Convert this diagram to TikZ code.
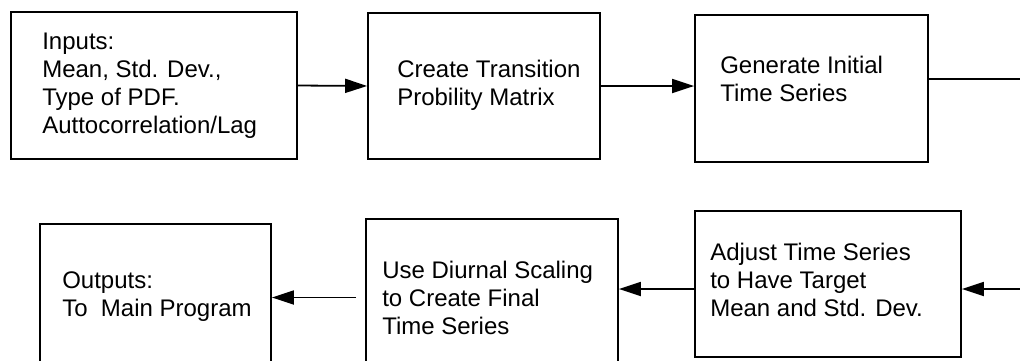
\documentclass[tikz,border=0pt]{standalone}
\usepackage{fontspec}
\setmainfont{Liberation Sans}
\usetikzlibrary{arrows.meta}

\begin{document}
\begin{tikzpicture}[x=1pt, y=-1pt,
    box/.style={draw, line width=1.8pt, rectangle, inner sep=0pt},
    txt/.style={anchor=base west, align=left, inner sep=0pt, font=\fontsize{24}{28}\selectfont},
    flow/.style={line width=1.8pt, -{Triangle[length=22pt, width=14pt]}}]
    \clip (0,0) rectangle (1020,360);

    % top row
    \node[box, minimum width=286, minimum height=147] (inputs) at (154,85.5) {};
    \node[box, minimum width=232, minimum height=146] (create) at (484,86) {};
    \node[box, minimum width=233, minimum height=147] (generate) at (811.5,88.5) {};

    % bottom row
    \node[box, minimum width=266, minimum height=146] (adjust) at (828,284) {};
    \node[box, minimum width=252, minimum height=147] (diurnal) at (492,292.5) {};
    \node[box, minimum width=231, minimum height=147] (outputs) at (155.5,297.5) {};

    % texts, base is the last line
    \node[txt] (inputs-t) at ([shift={(32,122)}]inputs.north west)
        {Inputs:\\Mean, Std. Dev.,\\Type of PDF.\\Auttocorrelation/Lag};
    \node[txt] (create-t) at ([shift={(30,93)}]create.north west)
        {Create Transition\\Probility Matrix};
    \node[txt] (generate-t) at ([shift={(26,87)}]generate.north west)
        {Generate Initial\\Time Series};
    \node[txt] (adjust-t) at ([shift={(16,106)}]adjust.north west)
        {Adjust Time Series\\to Have Target\\Mean and Std. Dev.};
    \node[txt] (diurnal-t) at ([shift={(17,116)}]diurnal.north west)
        {Use Diurnal Scaling\\to Create Final\\Time Series};
    \node[txt] (outputs-t) at ([shift={(23,93)}]outputs.north west)
        {Outputs:\\To\ \ Main Program};

    \coordinate (outR) at (1020,79);
    \coordinate (inR) at (1020,289);

    \draw[flow] (inputs.east) -- (create.west);
    \draw[flow] (create.east) -- (create.east -| generate.west);
    \draw[line width=1.8pt] (generate.east |- outR) -- (outR);

    \draw[flow] (inR) -- (adjust.east |- inR);
    \draw[flow] (adjust.west |- inR) -- (diurnal.east |- inR);
    \draw[flow, shorten <=9pt] (diurnal.west |- outputs.east) -- (outputs.east);
\end{tikzpicture}
\end{document}
